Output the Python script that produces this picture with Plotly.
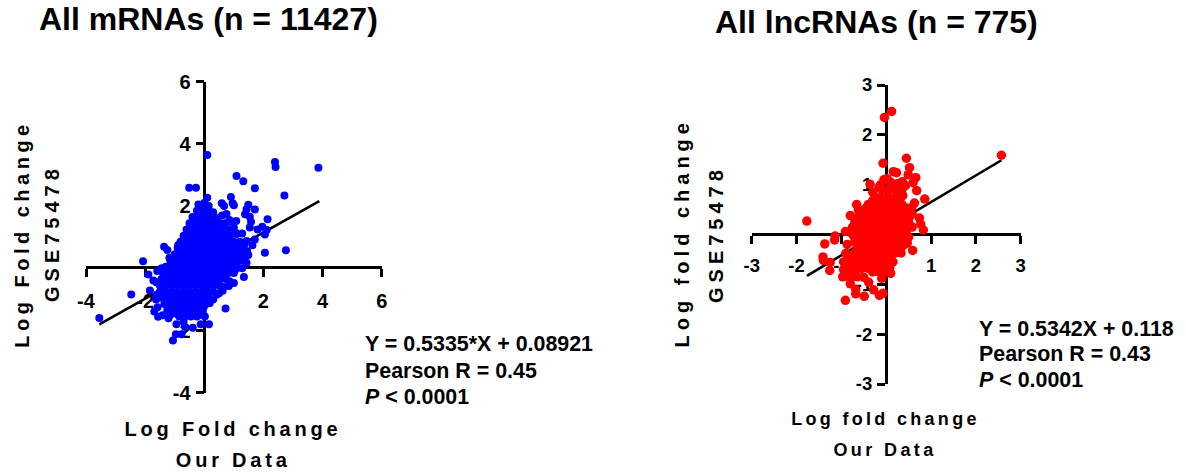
import plotly.graph_objects as go

W, H = 1186, 473

# ---------- data ----------
mrna_outliers = [(.1,3.64),(2.39,3.42),(2.41,3.26),(3.86,3.23),(1.09,2.97),(1.32,2.8),(1.71,2.57),(-.51,2.59),(-.28,2.59),
 (2.71,2.34),(.1,2.27),(.9,2.29),(.59,2.09),(.67,2.0),(.96,2.09),(1.0,2.03),(1.49,2.04),(1.71,1.89),(1.43,1.9),(1.38,1.74),
 (2.14,1.58),(1.54,1.66),(1.58,1.5),(1.54,1.31),(1.8,1.25),(1.96,1.34),(2.11,1.23),(2.05,1.09),(1.71,.93),(1.63,.74),
 (2.05,.5),(2.76,.58),(1.43,.88),(1.49,.43),(1.43,.18),(1.34,-.28),(1.0,-.47),(.83,-.57),(.72,-1.29),(.16,-1.8),(-.12,-1.8),
 (-.39,-1.91),(-.65,-1.89),(-.94,-1.8),(-.77,-2.12),(-.96,-2.12),(-1.06,-2.32),(-3.55,-1.6),(-2.47,-.84),(-2.07,.23),
 (-1.89,-.2),(-1.59,-.09),(-1.44,0),(-1.36,.69),(-1.25,.59),(-1.18,.34),(-.88,.75),(-1.84,-.71),(-1.72,-.39),(-1.63,-1),
 (-1.69,-1.39),(-1.56,-1.56),(-1.41,-1.51),(-1.21,-1.61)]
mrna_cloud = [
 (-.2,2.05),(0,2.1),(.15,2.0),(-.25,1.85),(-.05,1.85),(.15,1.85),(.3,1.8),
 (-.4,1.65),(-.2,1.65),(0,1.65),(.2,1.65),(.4,1.62),(.6,1.7),(.75,1.75),
 (-.5,1.45),(-.3,1.45),(-.1,1.45),(.1,1.45),(.3,1.45),(.5,1.45),(.7,1.45),(.85,1.5),
 (-.6,1.25),(-.4,1.25),(-.2,1.25),(0,1.25),(.2,1.25),(.4,1.25),(.6,1.25),(.8,1.25),(1.0,1.3),
 (-.7,1.05),(-.5,1.05),(-.3,1.05),(-.1,1.05),(.1,1.05),(.3,1.05),(.5,1.05),(.7,1.05),(.9,1.05),(1.1,1.1),
 (-.8,.85),(-.6,.85),(-.4,.85),(-.2,.85),(0,.85),(.2,.85),(.4,.85),(.6,.85),(.8,.85),(1.0,.85),(1.2,.85),
 (-.9,.65),(-.7,.65),(-.5,.65),(-.3,.65),(-.1,.65),(.1,.65),(.3,.65),(.5,.65),(.7,.65),(.9,.65),(1.1,.65),(1.3,.6),
 (-1.0,.45),(-.8,.45),(-.6,.45),(-.4,.45),(-.2,.45),(0,.45),(.2,.45),(.4,.45),(.6,.45),(.8,.45),(1.0,.45),(1.2,.45),
 (-1.15,.25),(-.95,.25),(-.75,.25),(-.55,.25),(-.35,.25),(-.15,.25),(.05,.25),(.25,.25),(.45,.25),(.65,.25),(.85,.25),(1.05,.25),(1.25,.25),
 (-1.3,.05),(-1.1,.05),(-.9,.05),(-.7,.05),(-.5,.05),(-.3,.05),(-.1,.05),(.1,.05),(.3,.05),(.5,.05),(.7,.05),(.9,.05),(1.1,.05),
 (-1.4,-.15),(-1.2,-.15),(-1.0,-.15),(-.8,-.15),(-.6,-.15),(-.4,-.15),(-.2,-.15),(0,-.15),(.2,-.15),(.4,-.15),(.6,-.15),(.8,-.15),(1.0,-.15),
 (-1.45,-.35),(-1.25,-.35),(-1.05,-.35),(-.85,-.35),(-.65,-.35),(-.45,-.35),(-.25,-.35),(-.05,-.35),(.15,-.35),(.35,-.35),(.55,-.35),(.75,-.35),
 (-1.5,-.55),(-1.3,-.55),(-1.1,-.55),(-.9,-.55),(-.7,-.55),(-.5,-.55),(-.3,-.55),(-.1,-.55),(.1,-.55),(.3,-.55),(.5,-.55),(.65,-.6),
 (-1.5,-.75),(-1.3,-.75),(-1.1,-.75),(-.9,-.75),(-.7,-.75),(-.5,-.75),(-.3,-.75),(-.1,-.75),(.1,-.75),(.3,-.75),(.5,-.8),
 (-1.45,-.95),(-1.25,-.95),(-1.05,-.95),(-.85,-.95),(-.65,-.95),(-.45,-.95),(-.25,-.95),(-.05,-.95),(.15,-.95),(.3,-1.0),
 (-1.35,-1.15),(-1.15,-1.15),(-.95,-1.15),(-.75,-1.15),(-.55,-1.15),(-.35,-1.15),(-.15,-1.15),(.05,-1.15),
 (-1.25,-1.35),(-1.05,-1.35),(-.85,-1.35),(-.65,-1.35),(-.45,-1.35),(-.25,-1.35),(-.05,-1.4),
 (-.85,-1.55),(-.65,-1.55),(-.45,-1.55),(-.25,-1.55),(-.7,-1.72)]
mrna_fill = [
 (-.35,1.55),(.05,1.55),(.45,1.55),(.85,1.55),(1.08,1.52),
 (-.55,1.15),(-.15,1.15),(.25,1.15),(.65,1.15),(1.05,1.15),(1.28,1.12),
 (-.85,.75),(-.45,.75),(-.05,.75),(.35,.75),(.75,.75),(1.15,.75),(1.35,.75),
 (-1.05,.35),(-.65,.35),(-.25,.35),(.15,.35),(.55,.35),(.95,.35),(1.35,.35),(1.45,.55),
 (-1.35,-.05),(-.95,-.05),(-.55,-.05),(-.15,-.05),(.25,-.05),(.65,-.05),(1.05,-.05),(1.28,.0),
 (-1.62,-.45),(-1.2,-.45),(-.8,-.45),(-.4,-.45),(0,-.45),(.4,-.45),(.85,-.42),
 (-1.62,-.85),(-1.2,-.85),(-.8,-.85),(-.4,-.85),(0,-.85),(.42,-.85),(.62,-.72),
 (-1.58,-1.25),(-1.2,-1.25),(-.8,-1.25),(-.4,-1.25),(-.02,-1.25),(.18,-1.12),
 (-1.15,-1.5),(-.95,-1.45),(-.55,-1.45),(-.15,-1.5),(.02,-1.55)]
mrna_fit_x = [-3.55, 3.89]
mrna_fit_y = [-1.8, 2.16]

lnc_outliers = [(-1.77,.27),(.12,2.47),(-.04,2.35),(2.57,1.59),(.45,1.53),(-.07,1.43),(.52,1.34),(.49,1.2),(.16,1.26),(.23,1.24),
 (.66,1.14),(.6,1.04),(.68,.88),(.86,.71),(.36,1.06),(.43,.98),(-.36,1.01),(-.16,.95),(-.05,1.1),(.02,1.12),(.37,.78),(.63,.63),
 (.57,.54),(.58,.41),(.74,.33),(.77,.21),(.83,.09),(-.66,.6),(-.91,.06),(-1.14,-.03),(-1.15,-.11),(-1.37,-.19),(-1.41,-.45),
 (-1.4,-.52),(-1.25,-.56),(-1.26,-.72),(-.97,-.85),(-.8,-.99),(-.68,-1.1),(-.68,-1.19),(-.91,-1.32),(-.49,-1.24),(-.28,-1.11),
 (-.15,-1.22),(-.07,-1.18),(-.39,-.96),(.59,-.32),(.47,-.17),(.08,-.66),(-.5,-.86),(-.87,-.2)]
lnc_cloud = [
 (-.1,.9),(.05,.9),(.2,.9),
 (-.25,.75),(-.1,.75),(.05,.75),(.2,.75),(.32,.75),
 (-.4,.6),(-.25,.6),(-.1,.6),(.05,.6),(.2,.6),(.35,.6),
 (-.55,.45),(-.4,.45),(-.25,.45),(-.1,.45),(.05,.45),(.2,.45),(.35,.45),(.48,.45),
 (-.7,.3),(-.55,.3),(-.4,.3),(-.25,.3),(-.1,.3),(.05,.3),(.2,.3),(.35,.3),(.5,.3),
 (-.75,.15),(-.6,.15),(-.45,.15),(-.3,.15),(-.15,.15),(0,.15),(.15,.15),(.3,.15),(.45,.15),(.58,.15),
 (-.75,0),(-.6,0),(-.45,0),(-.3,0),(-.15,0),(0,0),(.15,0),(.3,0),(.45,0),
 (-.7,-.15),(-.55,-.15),(-.4,-.15),(-.25,-.15),(-.1,-.15),(.05,-.15),(.2,-.15),(.35,-.15),
 (-.65,-.3),(-.5,-.3),(-.35,-.3),(-.2,-.3),(-.05,-.3),(.1,-.3),(.25,-.3),
 (-.8,-.45),(-.65,-.45),(-.5,-.45),(-.35,-.45),(-.2,-.45),(-.05,-.45),(.1,-.45),
 (-.8,-.6),(-.65,-.6),(-.5,-.6),(-.35,-.6),(-.2,-.6),(-.05,-.6),
 (-.85,-.75),(-.7,-.75),(-.3,-.75),(-.15,-.75),(0,-.75)]
lnc_fill = [
 (-.3,.68),(-.15,.68),(0,.68),(.15,.68),(.3,.68),
 (-.45,.53),(-.3,.53),(-.15,.53),(0,.53),(.15,.53),(.3,.53),(.45,.53),
 (-.6,.38),(-.45,.38),(-.3,.38),(-.15,.38),(0,.38),(.15,.38),(.3,.38),(.45,.38),
 (-.7,.23),(-.55,.23),(-.4,.23),(-.25,.23),(-.1,.23),(.05,.23),(.2,.23),(.35,.23),(.5,.23),
 (-.75,.08),(-.6,.08),(-.45,.08),(-.3,.08),(-.15,.08),(0,.08),(.15,.08),(.3,.08),(.45,.08),
 (-.7,-.07),(-.55,-.07),(-.4,-.07),(-.25,-.07),(-.1,-.07),(.05,-.07),(.2,-.07),(.35,-.07),(.5,-.05),
 (-.65,-.22),(-.5,-.22),(-.35,-.22),(-.2,-.22),(-.05,-.22),(.1,-.22),(.25,-.22),(.38,-.22),
 (-.7,-.37),(-.55,-.37),(-.4,-.37),(-.25,-.37),(-.1,-.37),(.05,-.37),(.2,-.37),(.33,-.37),
 (-.72,-.52),(-.57,-.52),(-.42,-.52),(-.27,-.52),(-.12,-.52),(.03,-.52),(.15,-.55),
 (-.95,-.55),(-.95,-.7),(-.9,-.38),(-.8,-.88),(-.65,-.85),(-.1,-.88),(.1,-.78),
 (-.8,.38),(-.62,.5),(-.3,.85),(.35,.9),(.1,1.05),(-.12,1.0),(.25,1.02),(-.55,-.68),(-.4,-.68),(-.25,-.68),(-.1,-.68)]
lnc_fit_x = [-1.77, 2.57]
lnc_fit_y = [-.83, 1.49]

mrna_xticks = [-4, -2, 2, 4, 6]
mrna_xlabels = ["-4", "-2", "2", "4", "6"]
mrna_yticks = [-4, -2, 2, 4, 6]
mrna_ylabels = ["-4", "-2", "2", "4", "6"]
lnc_ticks = [-3, -2, -1, 1, 2, 3]
lnc_labels = ["-3", "-2", "-1", "1", "2", "3"]

FONT = "Liberation Sans"

def px_x(v):
    return v / W

def px_y(v):
    return 1 - v / H

fig = go.Figure()

def add_panel(fit_x, fit_y, pts, color, size, xa, ya):
    fig.add_trace(go.Scatter(x=fit_x, y=fit_y, mode="lines", line=dict(color="black", width=2.6),
                             xaxis=xa, yaxis=ya, showlegend=False))
    fig.add_trace(go.Scatter(x=[p[0] for p in pts], y=[p[1] for p in pts], mode="markers",
                             marker=dict(color=color, size=size, line=dict(width=0)),
                             xaxis=xa, yaxis=ya, showlegend=False))

add_panel(mrna_fit_x, mrna_fit_y, mrna_cloud + mrna_fill + mrna_outliers, "#0000ff", 8, "x", "y")
add_panel(lnc_fit_x, lnc_fit_y, lnc_cloud + lnc_fill + lnc_outliers, "#ff0000", 9.5, "x2", "y2")

def xaxis_cfg(l, r, rng, y0, vals, labels, fs, standoff):
    return dict(domain=[px_x(l), px_x(r)], range=rng, anchor="free", position=px_y(y0),
                tickvals=vals, ticktext=labels, ticks="outside", ticklen=8, tickwidth=2.5, tickcolor="black",
                showline=True, linewidth=2.5, linecolor="black", showgrid=False, zeroline=False, automargin=False,
                tickfont=dict(family=FONT, size=fs, color="black", weight="bold"), ticklabelstandoff=standoff,
                layer="below traces", tickangle=0)

def yaxis_cfg(t, b, rng, x0, vals, labels, fs, standoff):
    return dict(domain=[px_y(b), px_y(t)], range=rng, anchor="free", position=px_x(x0),
                tickvals=vals, ticktext=labels, ticks="outside", ticklen=8, tickwidth=2.5, tickcolor="black",
                showline=True, linewidth=2.5, linecolor="black", showgrid=False, zeroline=False, automargin=False,
                tickfont=dict(family=FONT, size=fs, color="black", weight="bold"), ticklabelstandoff=standoff,
                layer="below traces")

fig.update_layout(
    width=W, height=H, margin=dict(l=0, r=0, t=0, b=0, pad=0, autoexpand=False),
    paper_bgcolor="white", plot_bgcolor="rgba(0,0,0,0)",
    xaxis=xaxis_cfg(86, 381.7, [-4, 6], 267.3, mrna_xticks, mrna_xlabels, 20, 7),
    yaxis=yaxis_cfg(81.7, 392.7, [-4, 6], 204.3, mrna_yticks, mrna_ylabels, 20, 1),
    xaxis2=xaxis_cfg(751.7, 1020.7, [-3, 3], 234, lnc_ticks, lnc_labels, 18.5, 6),
    yaxis2=yaxis_cfg(85, 384, [-3, 3], 885.7, lnc_ticks, lnc_labels, 18.5, 1),
    showlegend=False,
)

spacing = {}

def note(text, x, y, size, angle=0, xanchor="center", ls=0):
    if ls:
        spacing[len(fig.layout.annotations)] = ls
    fig.add_annotation(text=text, x=px_x(x), y=px_y(y), xref="paper", yref="paper", xanchor=xanchor, yanchor="middle",
                       showarrow=False, textangle=angle, font=dict(family=FONT, size=size, color="black", weight="bold"))

note("All mRNAs (n = 11427)", 208, 19, 32)
note("All lncRNAs (n = 775)", 876, 22, 32)
note("Log Fold change", 22, 234, 20, -90, ls=4.5)
note("GSE75478", 52, 233, 20, -90, ls=5)
note("Log Fold change", 233, 429, 20, ls=3.8)
note("Our Data", 233, 460, 20, ls=3.8)
note("Log fold change", 682, 233, 20, -90, ls=5)
note("GSE75478", 716, 234, 20, -90, ls=5)
note("Log fold change", 885, 419, 18, ls=3.3)
note("Our Data", 885, 450, 18, ls=3.4)
note("Y = 0.5335*X + 0.08921", 363, 344, 21.4, xanchor="left")
note("Pearson R = 0.45", 363, 371, 21.4, xanchor="left")
note("<i>P</i> < 0.0001", 363, 397, 21.4, xanchor="left")
note("Y = 0.5342X + 0.118", 977, 329, 21.4, xanchor="left")
note("Pearson R = 0.43", 977, 354, 21.4, xanchor="left")
note("<i>P</i> < 0.0001", 977, 380, 21.4, xanchor="left")

css = "".join(".annotation[data-index='%d'] text{letter-spacing:%spx}" % (i, v) for i, v in spacing.items())
post = """
document.body.style.margin='0';document.body.style.overflow='hidden';
var st=document.createElement('style');
st.textContent="%s";
document.head.appendChild(st);
""" % css
fig.write_html("out.html", post_script=post, config=dict(displayModeBar=False))
